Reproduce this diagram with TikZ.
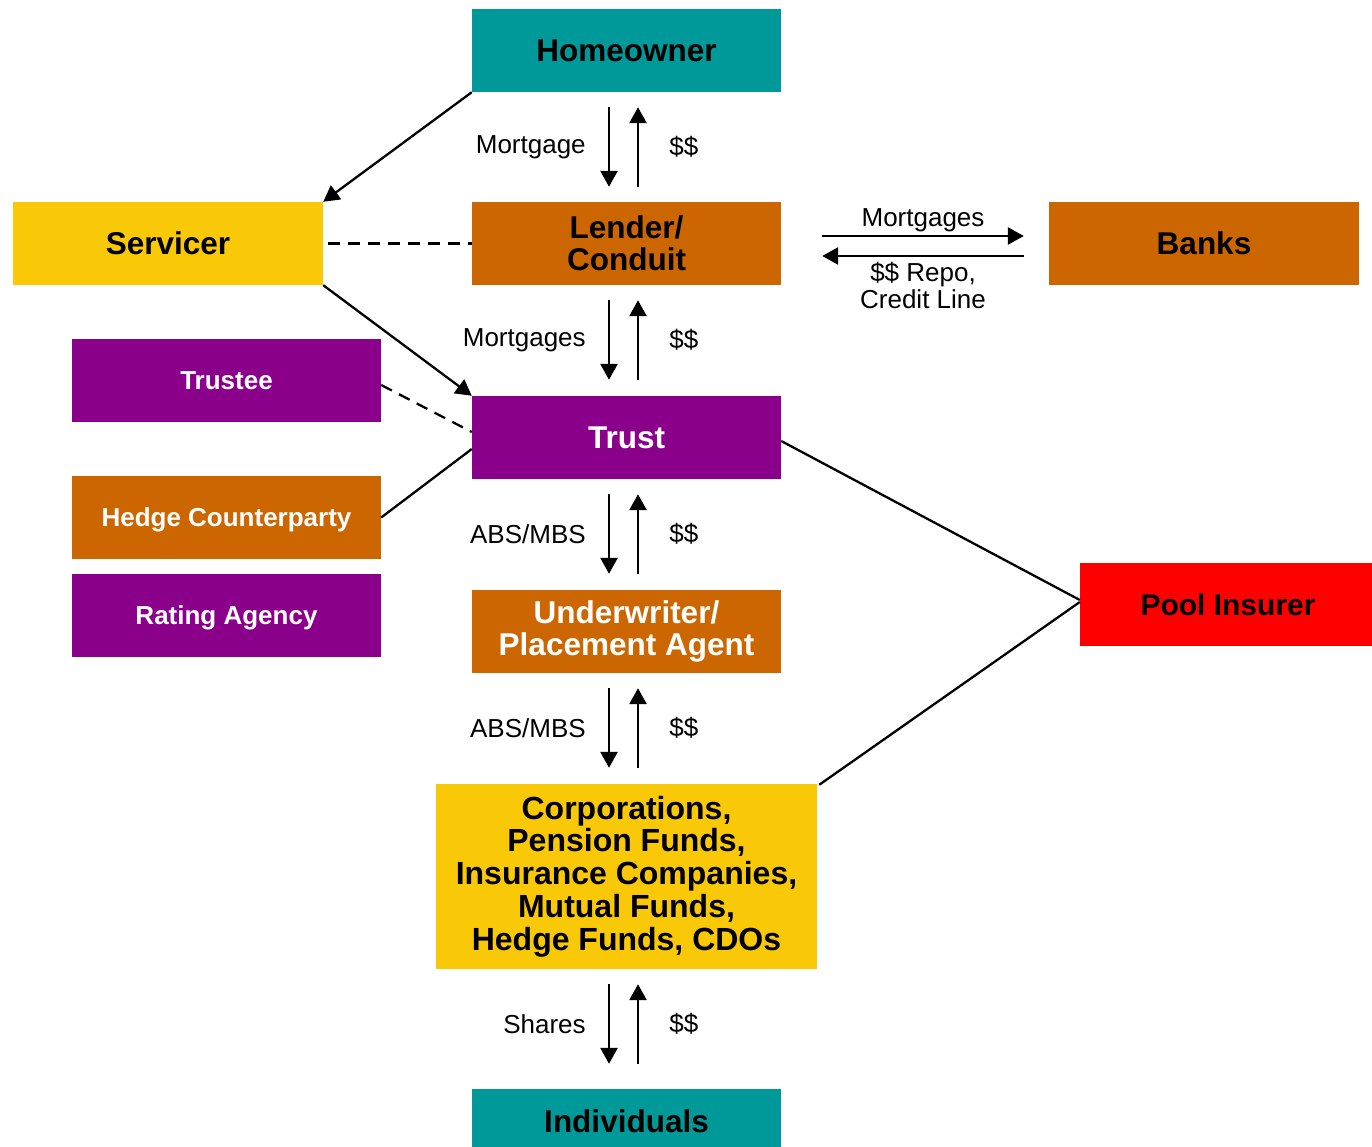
\documentclass[tikz,border=0pt]{standalone}
\usepackage{fontspec}
\setmainfont{Liberation Sans}
\usetikzlibrary{arrows.meta}
\definecolor{cteal}{HTML}{009999}
\definecolor{corange}{HTML}{CC6600}
\definecolor{cyellow}{HTML}{F9C806}
\definecolor{cpurple}{HTML}{8B008B}
\definecolor{cred}{HTML}{FF0000}
\tikzset{
  box/.style={draw=none, inner sep=0pt, align=center, minimum width=309pt, minimum height=83pt,
    font=\fontsize{31.5}{32}\selectfont\bfseries},
  smallbox/.style={box, font=\fontsize{26}{28}\selectfont\bfseries, text height=24.6pt, text depth=6pt},
  flow/.style={line width=2.6pt, -{Triangle[length=16pt,width=17pt]}},
  link/.style={line width=2.3pt},
  dlink/.style={line width=2.3pt, dash pattern=on 12pt off 8pt},
  lbl/.style={inner sep=0pt, font=\fontsize{26}{27}\selectfont},
}
\begin{document}
\begin{tikzpicture}[x=1pt,y=-1pt]
\useasboundingbox (0,0) rectangle (1372,1147);
% boxes
\node[box, fill=cteal, text=black] (home) at (626.5,50.5) {Homeowner};
\node[box, fill=cyellow, text=black, minimum width=310pt] (serv) at (168,243.5) {Servicer};
\node[box, fill=corange, text=black] (lender) at (626.5,243.5) {Lender/\\Conduit};
\node[box, fill=corange, text=black, minimum width=310pt] (banks) at (1204,243.5) {Banks};
\node[smallbox, fill=cpurple, text=white] (trustee) at (226.5,380.5) {Trustee};
\node[box, fill=cpurple, text=white] (trust) at (626.5,437.5) {Trust};
\node[smallbox, fill=corange, text=white] (hedge) at (226.5,517.5) {Hedge Counterparty};
\node[smallbox, fill=cpurple, text=white] (rating) at (226.5,615.5) {Rating Agency};
\node[box, fill=cred, text=black, minimum width=292pt, font=\fontsize{30}{32}\selectfont\bfseries] (pool) at (1226,604.5) {\hspace*{4pt}Pool Insurer};
\node[box, fill=corange, text=white] (under) at (626.5,631.5) {Underwriter/\\Placement Agent};
\node[box, fill=cyellow, text=black, minimum width=381pt, minimum height=185pt, font=\fontsize{32}{32.75}\selectfont\bfseries] (corp) at (626.5,876.5)
  {Corporations,\\Pension Funds,\\Insurance Companies,\\Mutual Funds,\\Hedge Funds, CDOs};
\node[box, fill=cteal, text=black, minimum height=64pt] (indiv) at (626.5,1121) {Individuals};

% vertical flow pairs
\draw[flow] ([xshift=-17.5pt,yshift=-15pt]home.south) -- node[lbl, anchor=east, xshift=-22pt]{Mortgage} ([xshift=-17.5pt,yshift=15pt]lender.north);
\draw[flow] ([xshift=11.5pt,yshift=15pt]lender.north) -- node[lbl, anchor=west, xshift=30pt]{\$\$} ([xshift=11.5pt,yshift=-15pt]home.south);

\draw[flow] ([xshift=-17.5pt,yshift=-15pt]lender.south) -- node[lbl, anchor=east, xshift=-22pt]{Mortgages} ([xshift=-17.5pt,yshift=16pt]trust.north);
\draw[flow] ([xshift=11.5pt,yshift=16pt]trust.north) -- node[lbl, anchor=west, xshift=30pt]{\$\$} ([xshift=11.5pt,yshift=-15pt]lender.south);

\draw[flow] ([xshift=-17.5pt,yshift=-15pt]trust.south) -- node[lbl, anchor=east, xshift=-22pt]{ABS/MBS} ([xshift=-17.5pt,yshift=16pt]under.north);
\draw[flow] ([xshift=11.5pt,yshift=16pt]under.north) -- node[lbl, anchor=west, xshift=30pt]{\$\$} ([xshift=11.5pt,yshift=-15pt]trust.south);

\draw[flow] ([xshift=-17.5pt,yshift=-15pt]under.south) -- node[lbl, anchor=east, xshift=-22pt]{ABS/MBS} ([xshift=-17.5pt,yshift=16pt]corp.north);
\draw[flow] ([xshift=11.5pt,yshift=16pt]corp.north) -- node[lbl, anchor=west, xshift=30pt]{\$\$} ([xshift=11.5pt,yshift=-15pt]under.south);

\draw[flow] ([xshift=-17.5pt,yshift=-15pt]corp.south) -- node[lbl, anchor=east, xshift=-22pt]{Shares} ([xshift=-17.5pt,yshift=25pt]indiv.north);
\draw[flow] ([xshift=11.5pt,yshift=25pt]indiv.north) -- node[lbl, anchor=west, xshift=30pt]{\$\$} ([xshift=11.5pt,yshift=-15pt]corp.south);

% banks
\draw[flow] ([xshift=41pt,yshift=7.5pt]lender.east) -- node[lbl, above=3pt]{Mortgages} ([xshift=-25pt,yshift=7.5pt]banks.west);
\draw[flow] ([xshift=-25pt,yshift=-12.5pt]banks.west) -- node[lbl, below=5pt, align=center]{\$\$ Repo,\\Credit Line} ([xshift=41pt,yshift=-12.5pt]lender.east);

% servicer links
\draw[flow, line width=2.3pt] (home.south west) -- (serv.north east);
\draw[flow, line width=2.3pt] (serv.south east) -- (trust.north west);
\draw[dlink] ([xshift=5pt]serv.east) -- (lender.west);

% trust side links
\draw[dlink] ([yshift=-4.5pt]trustee.east) -- ([yshift=5.5pt]trust.west);
\draw[link] (hedge.east) -- ([yshift=-11.5pt]trust.west);
\draw[link] ([yshift=-3.5pt]trust.east) -- ([yshift=4.5pt]pool.west);
\draw[link] ([xshift=2pt,yshift=-1pt]corp.north east) -- ([yshift=2.5pt]pool.west);
\end{tikzpicture}
\end{document}
